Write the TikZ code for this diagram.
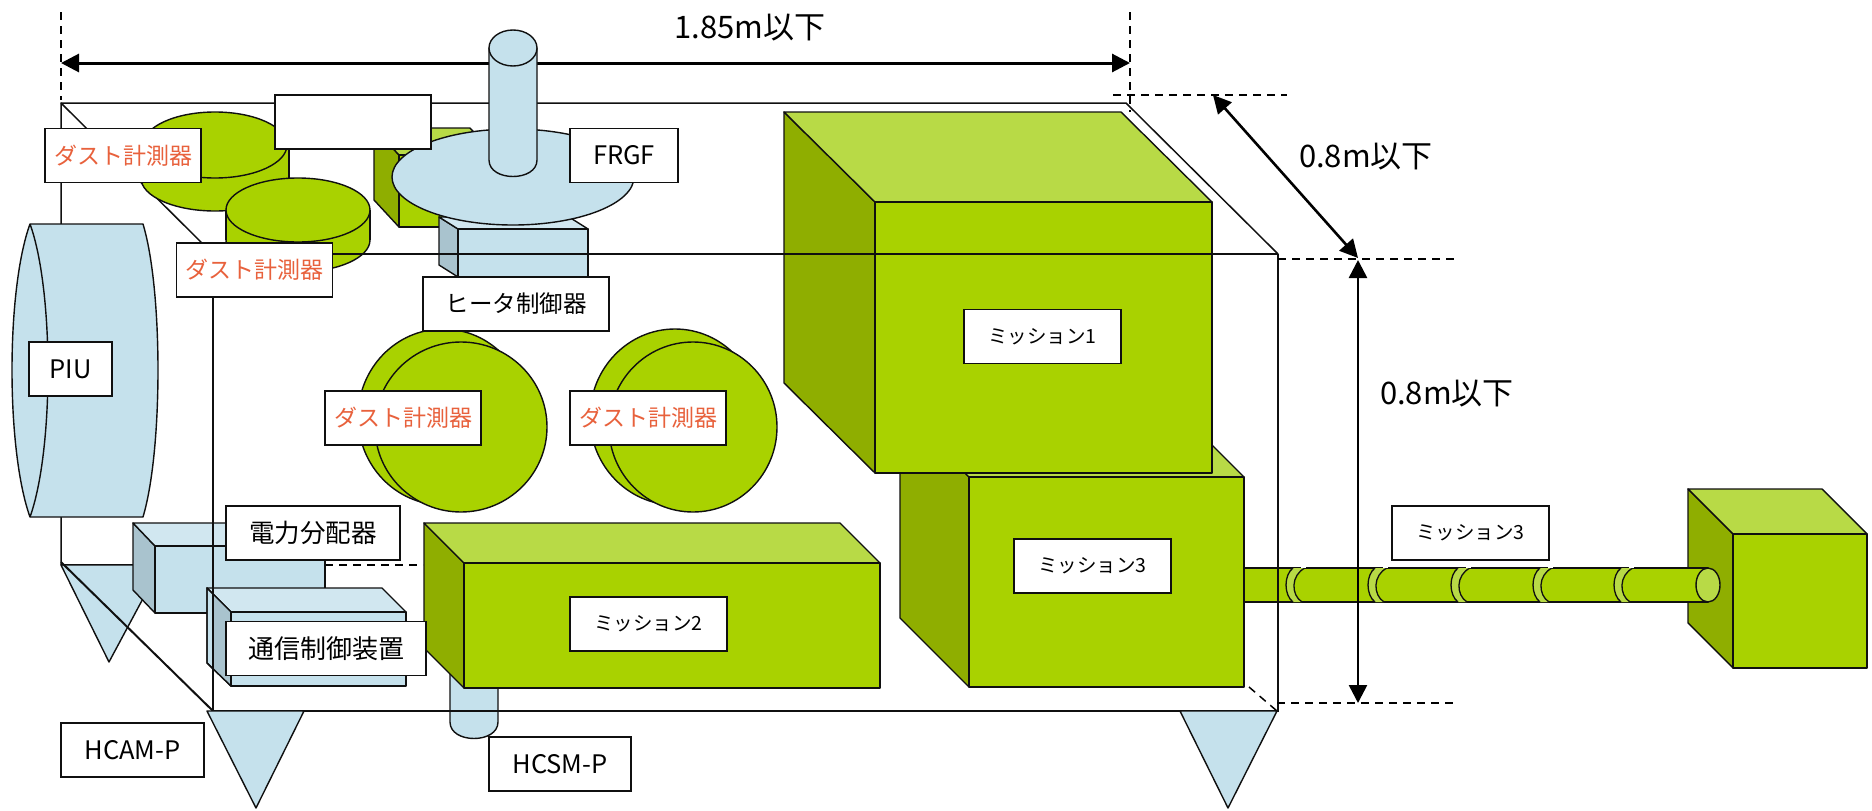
\documentclass[tikz,border=0pt]{standalone}
\usepackage{fontspec}
\setmainfont{Noto Sans CJK JP}
\usetikzlibrary{arrows.meta}
\definecolor{gf}{HTML}{A9D200}
\definecolor{gt}{HTML}{B8DA46}
\definecolor{gs}{HTML}{8FAE00}
\definecolor{bf}{HTML}{C5E1EC}
\definecolor{bt}{HTML}{D1E7F0}
\definecolor{bs}{HTML}{A9C3CE}
\definecolor{dustred}{HTML}{E8613C}
\definecolor{ink}{HTML}{101010}
% front x, front y, width, height, depth x, depth y, front, top, side
\newcommand{\cuboid}[9]{
  \draw[shp,fill=#9] (#1,#2) -- ({#1-#5},{#2-#6}) -- ({#1-#5},{#2+#4-#6}) -- (#1,{#2+#4}) -- cycle;
  \draw[shp,fill=#8] (#1,#2) -- ({#1-#5},{#2-#6}) -- ({#1+#3-#5},{#2-#6}) -- ({#1+#3},#2) -- cycle;
  \draw[shp,fill=#7] (#1,#2) rectangle ({#1+#3},{#2+#4});
}
\tikzset{
  shp/.style={draw=ink,line width=1.4pt,line join=round},
  wire/.style={draw=ink,line width=1.5pt},
  dim/.style={draw=black,line width=3pt,{Triangle[length=18pt,width=18pt]}-{Triangle[length=18pt,width=18pt]}},
  dashline/.style={draw=black,line width=1.5pt,dash pattern=on 8pt off 6pt},
  lab/.style={draw=ink,fill=white,line width=1.5pt,inner sep=0pt,minimum height=54pt,align=center,font=\fontsize{25.5}{27}\selectfont},
  dust/.style={lab,minimum width=156pt,text=dustred,font=\fontsize{23}{25}\selectfont},
  kana/.style={lab,minimum width=157pt,font=\fontsize{19.5}{21}\selectfont},
  free/.style={inner sep=0pt,font=\fontsize{31}{33}\selectfont}
}
\begin{document}
\begin{tikzpicture}[x=1pt,y=-1pt]
\useasboundingbox (0,0) rectangle (1872,811);
% frame, back
\draw[wire] (61,565) -- (61,103) -- (1126,103) -- (1278,254);
\draw[wire] (61,103) -- (213,254);
\draw[wire] (61,565) -- (325,565);
\draw[dashline] (325,565) -- (423,565);
\coordinate (LT) at (61,12); \coordinate (LB) at (61,100);
\coordinate (RT) at (1130,12); \coordinate (RB) at (1130,112);
\draw[dashline] (LT) -- (LB);
\draw[dashline] (RT) -- (RB);
% HCAM small triangle
\draw[shp,fill=bf] (61,565) -- (161,565) -- (109,662) -- cycle;
% back green box
\cuboid{399}{155}{96}{72}{25}{27}{gf}{gt}{gs}
% dust cylinders
\draw[shp,fill=gf] (215,178) ellipse [x radius=74pt,y radius=33pt];
\fill[gf] (141,145) rectangle (289,178);
\draw[shp] (289,145) -- (289,178);
\draw[shp,fill=gf] (215,145) ellipse [x radius=72pt,y radius=33pt];
\draw[shp,fill=gf] (298,240) ellipse [x radius=72pt,y radius=32pt];
\fill[gf] (226,210) rectangle (370,240);
\draw[shp] (226,210) -- (226,240) (370,210) -- (370,240);
\draw[shp,fill=gf] (298,210) ellipse [x radius=72pt,y radius=32pt];
% heater, FRGF disk
\cuboid{458}{229}{130}{48}{19}{12}{bf}{bt}{bs}
\draw[shp,fill=bf] (513,177) ellipse [x radius=121pt,y radius=48pt];
% post
\coordinate (DL) at (61,63); \coordinate (DR) at (1130,63);
\draw[dim] (DL) -- (DR);
\draw[shp,fill=bf] (489,48) -- (489,160) .. controls (489,182) and (537,182) .. (537,160) -- (537,48) -- cycle;
\draw[shp,fill=bf] (513,48) ellipse [x radius=24pt,y radius=18pt];
% PIU
\draw[shp,fill=bf] (30,224) -- (143,224) .. controls (163,290) and (163,450) .. (143,517) -- (30,517) .. controls (6,450) and (6,290) .. (30,224) -- cycle;
\draw[shp] (30,224) .. controls (54,290) and (54,450) .. (30,517);
% large dust discs
\draw[shp,fill=gf] (443,417) ellipse [x radius=85pt,y radius=88pt];
\draw[shp,fill=gf] (461,427) ellipse [x radius=86pt,y radius=85pt];
\draw[shp,fill=gf] (675,417) ellipse [x radius=85pt,y radius=88pt];
\draw[shp,fill=gf] (693,427) ellipse [x radius=84pt,y radius=85pt];
% power box
\cuboid{155}{546}{170}{67}{22}{23}{bf}{bt}{bs}
% comm box
\draw[shp,fill=bt] (231,612) -- (207,588) -- (382,588) -- (406,612) -- cycle;
\draw[shp,fill=bf] (207,588) -- (231,612) -- (231,686) -- (207,663) -- cycle;
\fill[bs] (213,594) -- (231,612) -- (231,686) -- (213,669) -- cycle;
\draw[shp] (207,588) -- (231,612) -- (231,686) -- (207,663) -- cycle;
\draw[shp,fill=bf] (231,612) rectangle (406,686);
% HCSM
\draw[shp,fill=bf] (450,660) -- (450,722) .. controls (450,744) and (498,744) .. (498,722) -- (498,660) -- cycle;
% mission 2
\cuboid{464}{563}{416}{125}{40}{40}{gf}{gt}{gs}
% mission 3, boom, far box
\cuboid{1733}{534}{134}{134}{45}{45}{gf}{gt}{gs}
\draw[shp,fill=gf] (1240,568) -- (1708,568) -- (1708,602) -- (1240,602) -- cycle;
\foreach \r in {1286,1368,1451,1533,1614}{
  \fill[gt] (\r+7,568) .. controls (\r-2.3,575) and (\r-2.3,595) .. (\r+7,602) -- (\r+16,602) .. controls (\r+4.8,595) and (\r+4.8,575) .. (\r+19,568) -- cycle;
  \draw[draw=ink,line width=1.3pt] (\r+7,568) .. controls (\r-2.3,575) and (\r-2.3,595) .. (\r+7,602);
  \draw[draw=ink,line width=1.3pt] (\r+19,568) .. controls (\r+4.8,575) and (\r+4.8,595) .. (\r+16,602);
  \draw[draw=white,line width=1.5pt] (\r+15,567) -- (\r+20,567);
}
\draw[shp,fill=gt] (1708,585) ellipse [x radius=12pt,y radius=17pt];
\cuboid{969}{477}{275}{210}{69}{69}{gf}{gt}{gs}
% mission 1
\cuboid{875}{202}{337}{271}{91}{90}{gf}{gt}{gs}
% front frame
\draw[wire] (213,254) -- (1278,254);
\draw[wire] (213,254) -- (213,711) -- (1278,711) -- (1278,254);
\draw[wire,line width=2pt] (61,562) -- (213,711);
\draw[dashline] (1249,687) -- (1277,711);
% bottom triangles
\draw[shp,fill=bf] (207,711) -- (304,711) -- (256,808) -- cycle;
\draw[shp,fill=bf] (1180,711) -- (1277,711) -- (1228,808) -- cycle;
% dimensions
\coordinate (A) at (1113,95); \coordinate (B) at (1287,95);
\draw[dashline] (A) -- (B);
\coordinate (C) at (1278,259); \coordinate (D) at (1454,259);
\draw[dashline] (C) -- (D);
\coordinate (E) at (1277,703); \coordinate (F) at (1453,703);
\draw[dashline] (E) -- (F);
\coordinate (G) at (1213,95); \coordinate (H) at (1358,258);
\draw[dim,line width=2.6pt] (G) -- (H);
\coordinate (I) at (1358,260); \coordinate (J) at (1358,703);
\draw[dim,line width=2.6pt] (I) -- (J);
\node[free] (t185) at (750,28) {1.85m以下};
\node[free] (t08a) at (1366,157) {0.8m以下};
\node[free] (t08b) at (1447,394) {0.8m以下};
% labels
\node[dust] (d1) at (123,155.5) {ダスト計測器};
\node[lab,minimum width=156pt] (blank) at (353,122) {};
\node[dust] (d2) at (254.5,270) {ダスト計測器};
\node[lab,minimum width=108pt] (frgf) at (624,155.5) {FRGF};
\node[lab,minimum width=186pt,font=\fontsize{23.5}{25}\selectfont] (heater) at (516,304) {ヒータ制御器};
\node[lab,minimum width=83pt] (piu) at (70.5,369) {PIU};
\node[dust] (d3) at (403,418) {ダスト計測器};
\node[dust] (d4) at (648,418) {ダスト計測器};
\node[lab,minimum width=174pt] (power) at (313,533) {電力分配器};
\node[lab,minimum width=200pt,font=\fontsize{26}{27}\selectfont] (comm) at (326,648.5) {通信制御装置};
\node[lab,minimum width=143pt] (hcam) at (132.5,750) {HCAM-P};
\node[lab,minimum width=142pt] (hcsm) at (560,764) {HCSM-P};
\node[kana] (m1) at (1042.5,336.5) {ミッション1};
\node[kana] (m2) at (648.5,624) {ミッション2};
\node[kana] (m3a) at (1092.5,566) {ミッション3};
\node[kana] (m3b) at (1470.5,533) {ミッション3};
\end{tikzpicture}
\end{document}
